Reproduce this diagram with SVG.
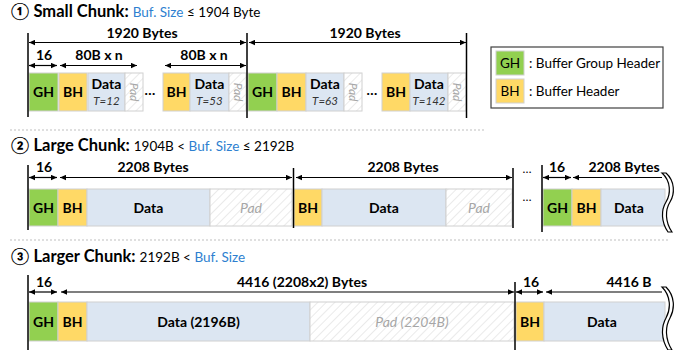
<svg xmlns="http://www.w3.org/2000/svg" width="678" height="350" viewBox="0 0 678 350">
<style>
.t{font-family:Lato,"Open Sans","DejaVu Sans",sans-serif;fill:#000}
.h{font-size:16.5px;font-weight:bold}
.hs{font-size:13.5px;font-weight:normal}
.blue{fill:#2e7fd0}
.b{font-size:14px;font-weight:bold;text-anchor:middle}
.d{font-size:14px;font-weight:bold;text-anchor:middle}
.tm{font-size:11.5px;font-style:italic;text-anchor:middle;fill:#333}
.pt{font-size:14px;font-style:italic;text-anchor:middle;fill:#a6a6a6}
.pts{font-size:12px;font-style:italic;text-anchor:middle;fill:#a6a6a6}
.lg{font-size:13.5px}
.gh{fill:#92d050;stroke:#d0d0d0;stroke-width:1}
.bh{fill:#ffd966;stroke:#d0d0d0;stroke-width:1}
.da{fill:#dce6f2;stroke:#d0d0d0;stroke-width:1}
.pa{fill:url(#hatch);stroke:#d0d0d0;stroke-width:1}
.vl{stroke:#000;stroke-width:1.5}
.ar{stroke:#000;stroke-width:1.2;fill:none}
.sep{stroke:#bfbfbf;stroke-width:1;stroke-dasharray:2 2}
.brk{fill:#fff;stroke:#000;stroke-width:1.2}
</style>
<defs>
<pattern id="hatch" patternUnits="userSpaceOnUse" width="6" height="6" patternTransform="rotate(45)">
<rect width="6" height="6" fill="#fff"/>
<line x1="0" y1="0" x2="0" y2="6" stroke="#dcdcdc" stroke-width="1.2"/>
</pattern>
<marker id="ah" viewBox="0 0 10 10" refX="10" refY="5" markerWidth="7" markerHeight="6" markerUnits="userSpaceOnUse" orient="auto-start-reverse">
<path d="M0,0.5 L10,5 L0,9.5 z" fill="#000"/>
</marker>
</defs>

<!-- Titles -->
<text class="t h" x="11" y="17">① Small Chunk: <tspan class="hs blue">Buf. Size</tspan><tspan class="hs"> ≤ 1904 Byte</tspan></text>
<text class="t h" x="11" y="151">② Large Chunk: <tspan class="hs">1904B &lt; </tspan><tspan class="hs blue">Buf. Size</tspan><tspan class="hs"> ≤ 2192B</tspan></text>
<text class="t h" x="11" y="262">③ Larger Chunk: <tspan class="hs">2192B &lt; </tspan><tspan class="hs blue">Buf. Size</tspan></text>

<line class="sep" x1="10" y1="130" x2="484" y2="130"/>
<line class="sep" x1="10" y1="240" x2="668" y2="240"/>

<!-- Section 1 nodes -->
<g id="s1-gh1"><rect class="gh" x="29" y="73" width="29" height="38"/><text class="t b" x="43.5" y="97">GH</text></g>
<g id="s1-bh1"><rect class="bh" x="59" y="73" width="28" height="38"/><text class="t b" x="73" y="97">BH</text></g>
<g id="s1-data1"><rect class="da" x="88" y="73" width="37" height="38"/><text class="t d" x="106.5" y="89">Data</text><text class="t tm" x="106.5" y="105">T=12</text></g>
<g id="s1-pad1"><rect class="pa" x="125" y="73" width="18" height="38"/><text class="t pts" transform="translate(130,92) rotate(90)">Pad</text></g>
<text class="t" x="150" y="95" font-size="14" font-weight="bold" text-anchor="middle">…</text>
<g id="s1-bh2"><rect class="bh" x="163" y="73" width="27" height="38"/><text class="t b" x="176.5" y="97">BH</text></g>
<g id="s1-data2"><rect class="da" x="190" y="73" width="39" height="38"/><text class="t d" x="209.5" y="89">Data</text><text class="t tm" x="209.5" y="105">T=53</text></g>
<g id="s1-pad2"><rect class="pa" x="229" y="73" width="17" height="38"/><text class="t pts" transform="translate(233.5,92) rotate(90)">Pad</text></g>
<g id="s1-gh2"><rect class="gh" x="248" y="73" width="29" height="38"/><text class="t b" x="262.5" y="97">GH</text></g>
<g id="s1-bh3"><rect class="bh" x="277" y="73" width="29" height="38"/><text class="t b" x="291.5" y="97">BH</text></g>
<g id="s1-data3"><rect class="da" x="306" y="73" width="38" height="38"/><text class="t d" x="325" y="89">Data</text><text class="t tm" x="325" y="105">T=63</text></g>
<g id="s1-pad3"><rect class="pa" x="344" y="73" width="18" height="38"/><text class="t pts" transform="translate(349,92) rotate(90)">Pad</text></g>
<text class="t" x="372" y="95" font-size="14" font-weight="bold" text-anchor="middle">…</text>
<g id="s1-bh4"><rect class="bh" x="382" y="73" width="28" height="38"/><text class="t b" x="396" y="97">BH</text></g>
<g id="s1-data4"><rect class="da" x="410" y="73" width="38" height="38"/><text class="t d" x="429" y="89">Data</text><text class="t tm" x="429" y="105">T=142</text></g>
<g id="s1-pad4"><rect class="pa" x="448" y="73" width="18" height="38"/><text class="t pts" transform="translate(453,92) rotate(90)">Pad</text></g>

<!-- Legend -->
<g id="legend">
<rect x="491" y="47" width="172" height="61" fill="#fff" stroke="#404040" stroke-width="1.2"/>
<rect x="496" y="51" width="28" height="24" fill="#92d050" stroke="#d0d0d0"/>
<text class="t lg" x="510" y="68" text-anchor="middle">GH</text>
<text class="t lg" x="529" y="68">: Buffer Group Header</text>
<rect x="496" y="79" width="28" height="24" fill="#ffd966" stroke="#d0d0d0"/>
<text class="t lg" x="510" y="96" text-anchor="middle">BH</text>
<text class="t lg" x="529" y="96">: Buffer Header</text>
</g>

<!-- Section 2 nodes -->
<g id="s2-gh1"><rect class="gh" x="29" y="189" width="29" height="37"/><text class="t b" x="43.5" y="212.5">GH</text></g>
<g id="s2-bh1"><rect class="bh" x="58" y="189" width="29" height="37"/><text class="t b" x="72.5" y="212.5">BH</text></g>
<g id="s2-data1"><rect class="da" x="87" y="189" width="123" height="37"/><text class="t d" x="148.5" y="212.5">Data</text></g>
<g id="s2-pad1"><rect class="pa" x="210" y="189" width="82" height="37"/><text class="t pt" x="251" y="212.5">Pad</text></g>
<g id="s2-bh2"><rect class="bh" x="294" y="189" width="28" height="37"/><text class="t b" x="308" y="212.5">BH</text></g>
<g id="s2-data2"><rect class="da" x="322" y="189" width="124" height="37"/><text class="t d" x="384" y="212.5">Data</text></g>
<g id="s2-pad2"><rect class="pa" x="446" y="189" width="66" height="37"/><text class="t pt" x="479" y="212.5">Pad</text></g>
<text class="t" x="527" y="173" font-size="12" text-anchor="middle">…</text>
<text class="t" x="527" y="201" font-size="12" text-anchor="middle">…</text>
<g id="s2-gh2"><rect class="gh" x="543" y="189" width="29" height="37"/><text class="t b" x="557.5" y="212.5">GH</text></g>
<g id="s2-bh3"><rect class="bh" x="572" y="189" width="29" height="37"/><text class="t b" x="586.5" y="212.5">BH</text></g>
<g id="s2-data3"><rect class="da" x="601" y="189" width="64" height="37"/><text class="t d" x="629" y="212.5">Data</text></g>

<!-- Section 3 nodes -->
<g id="s3-gh1"><rect class="gh" x="29" y="302" width="29" height="39"/><text class="t b" x="43.5" y="326.5">GH</text></g>
<g id="s3-bh1"><rect class="bh" x="58" y="302" width="29" height="39"/><text class="t b" x="72.5" y="326.5">BH</text></g>
<g id="s3-data1"><rect class="da" x="87" y="302" width="223" height="39"/><text class="t d" x="198.5" y="326.5">Data (2196B)</text></g>
<g id="s3-pad1"><rect class="pa" x="310" y="302" width="204" height="39"/><text class="t pt" x="412" y="326.5">Pad (2204B)</text></g>
<g id="s3-bh2"><rect class="bh" x="516" y="302" width="28" height="39"/><text class="t b" x="530" y="326.5">BH</text></g>
<g id="s3-data2"><rect class="da" x="544" y="302" width="121" height="39"/><text class="t d" x="602" y="326.5">Data</text></g>

<!-- Connectors / dimension lines -->
<g id="connectors">
<line class="vl" x1="28" y1="33" x2="28" y2="117"/>
<line class="vl" x1="247" y1="33" x2="247" y2="118"/>
<line class="vl" x1="466.5" y1="33" x2="466.5" y2="118"/>
<line class="ar" x1="29" y1="42.5" x2="246" y2="42.5" marker-start="url(#ah)" marker-end="url(#ah)"/>
<line class="ar" x1="249" y1="42.5" x2="466" y2="42.5" marker-start="url(#ah)" marker-end="url(#ah)"/>
<line class="ar" x1="29" y1="65.5" x2="57" y2="65.5" marker-start="url(#ah)" marker-end="url(#ah)"/>
<line class="ar" x1="60" y1="65.5" x2="137" y2="65.5" marker-start="url(#ah)" marker-end="url(#ah)"/>
<line class="ar" x1="165" y1="65.5" x2="246" y2="65.5" marker-start="url(#ah)" marker-end="url(#ah)"/>

<line class="vl" x1="28" y1="165" x2="28" y2="230"/>
<line class="vl" x1="293.5" y1="168" x2="293.5" y2="228"/>
<line class="vl" x1="513" y1="168" x2="513" y2="228"/>
<line class="vl" x1="542" y1="165" x2="542" y2="232"/>
<line class="ar" x1="29" y1="177.5" x2="57" y2="177.5" marker-start="url(#ah)" marker-end="url(#ah)"/>
<line class="ar" x1="60" y1="177.5" x2="292" y2="177.5" marker-start="url(#ah)" marker-end="url(#ah)"/>
<line class="ar" x1="296" y1="177.5" x2="512" y2="177.5" marker-start="url(#ah)" marker-end="url(#ah)"/>
<line class="ar" x1="543" y1="177.5" x2="571" y2="177.5" marker-start="url(#ah)" marker-end="url(#ah)"/>
<line class="ar" x1="573" y1="177.5" x2="662" y2="177.5" marker-start="url(#ah)"/>

<line class="vl" x1="28" y1="275" x2="28" y2="350"/>
<line class="vl" x1="515" y1="282" x2="515" y2="350"/>
<line class="ar" x1="29" y1="292" x2="57" y2="292" marker-start="url(#ah)" marker-end="url(#ah)"/>
<line class="ar" x1="61" y1="292" x2="514" y2="292" marker-start="url(#ah)" marker-end="url(#ah)"/>
<line class="ar" x1="516" y1="292" x2="543" y2="292" marker-start="url(#ah)" marker-end="url(#ah)"/>
<line class="ar" x1="546" y1="292" x2="662" y2="292" marker-start="url(#ah)"/>

<path class="brk" d="M662,173 C671,181 671,194 666,202 C661,210 661,222 668,232 L672,232 C665,222 665,210 670,202 C675,194 675,181 666,173 Z"/>
<path class="brk" d="M662,287 C671,296 671,309 666,318 C661,327 661,339 668,350 L672,350 C665,339 665,327 670,318 C675,309 675,296 666,287 Z"/>
</g>

<!-- Dimension labels -->
<g id="labels">
<text class="t d" x="142" y="38">1920 Bytes</text>
<text class="t d" x="365" y="38">1920 Bytes</text>
<text class="t d" x="44" y="60">16</text>
<text class="t d" x="99" y="60">80B x n</text>
<text class="t d" x="204" y="60">80B x n</text>
<text class="t d" x="44" y="172">16</text>
<text class="t d" x="153" y="172">2208 Bytes</text>
<text class="t d" x="403" y="172">2208 Bytes</text>
<text class="t d" x="557" y="172">16</text>
<text class="t d" x="624" y="172">2208 Bytes</text>
<text class="t d" x="44" y="287">16</text>
<text class="t d" x="302" y="287">4416 (2208x2) Bytes</text>
<text class="t d" x="531" y="287">16</text>
<text class="t d" x="629" y="287">4416 B</text>
</g>
</svg>
